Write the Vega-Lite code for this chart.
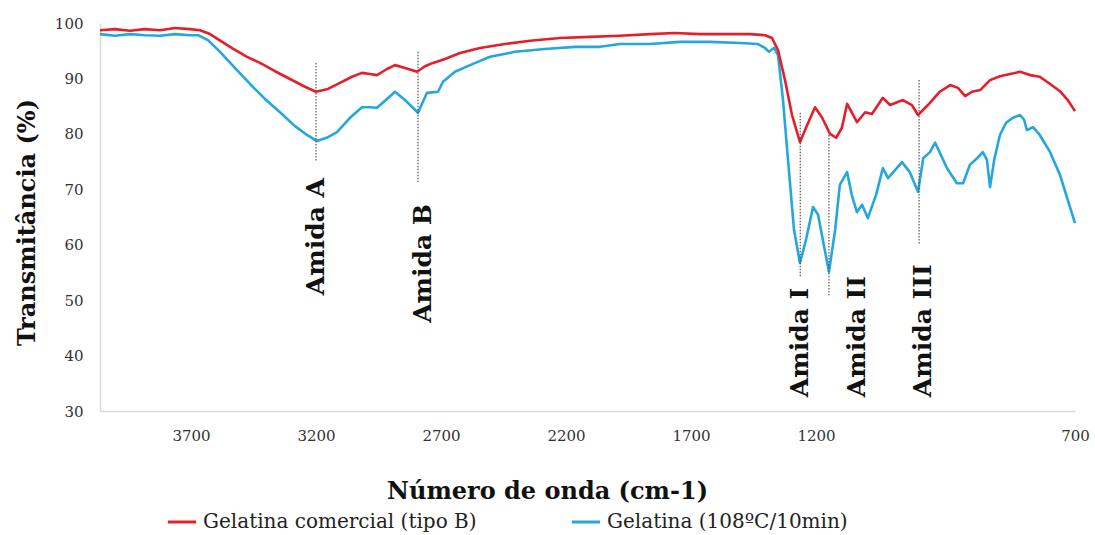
{
  "$schema": "https://vega.github.io/schema/vega-lite/v6.json",
  "width": 975,
  "height": 388,
  "autosize": {"type": "none"},
  "padding": {"left": 100, "top": 23, "right": 20, "bottom": 124},
  "background": "white",
  "config": {"view": {"stroke": null}, "font": "DejaVu Serif"},
  "datasets": {
    "espectros": [
      {"amostra": "Gelatina (108ºC/10min)", "numero_onda": 4064, "transmitancia": 98.0},
      {"amostra": "Gelatina (108ºC/10min)", "numero_onda": 4004, "transmitancia": 97.7},
      {"amostra": "Gelatina (108ºC/10min)", "numero_onda": 3944, "transmitancia": 98.0},
      {"amostra": "Gelatina (108ºC/10min)", "numero_onda": 3884, "transmitancia": 97.8},
      {"amostra": "Gelatina (108ºC/10min)", "numero_onda": 3824, "transmitancia": 97.7},
      {"amostra": "Gelatina (108ºC/10min)", "numero_onda": 3764, "transmitancia": 98.0},
      {"amostra": "Gelatina (108ºC/10min)", "numero_onda": 3704, "transmitancia": 97.8},
      {"amostra": "Gelatina (108ºC/10min)", "numero_onda": 3672, "transmitancia": 97.8},
      {"amostra": "Gelatina (108ºC/10min)", "numero_onda": 3632, "transmitancia": 96.9},
      {"amostra": "Gelatina (108ºC/10min)", "numero_onda": 3584, "transmitancia": 94.8},
      {"amostra": "Gelatina (108ºC/10min)", "numero_onda": 3516, "transmitancia": 91.5},
      {"amostra": "Gelatina (108ºC/10min)", "numero_onda": 3464, "transmitancia": 89.0},
      {"amostra": "Gelatina (108ºC/10min)", "numero_onda": 3404, "transmitancia": 86.3},
      {"amostra": "Gelatina (108ºC/10min)", "numero_onda": 3344, "transmitancia": 83.9},
      {"amostra": "Gelatina (108ºC/10min)", "numero_onda": 3284, "transmitancia": 81.4},
      {"amostra": "Gelatina (108ºC/10min)", "numero_onda": 3236, "transmitancia": 79.8},
      {"amostra": "Gelatina (108ºC/10min)", "numero_onda": 3196, "transmitancia": 78.7},
      {"amostra": "Gelatina (108ºC/10min)", "numero_onda": 3152, "transmitancia": 79.4},
      {"amostra": "Gelatina (108ºC/10min)", "numero_onda": 3116, "transmitancia": 80.3},
      {"amostra": "Gelatina (108ºC/10min)", "numero_onda": 3064, "transmitancia": 82.9},
      {"amostra": "Gelatina (108ºC/10min)", "numero_onda": 3016, "transmitancia": 84.8},
      {"amostra": "Gelatina (108ºC/10min)", "numero_onda": 2984, "transmitancia": 84.8},
      {"amostra": "Gelatina (108ºC/10min)", "numero_onda": 2956, "transmitancia": 84.7},
      {"amostra": "Gelatina (108ºC/10min)", "numero_onda": 2916, "transmitancia": 86.3},
      {"amostra": "Gelatina (108ºC/10min)", "numero_onda": 2884, "transmitancia": 87.6},
      {"amostra": "Gelatina (108ºC/10min)", "numero_onda": 2844, "transmitancia": 86.1},
      {"amostra": "Gelatina (108ºC/10min)", "numero_onda": 2792, "transmitancia": 83.8},
      {"amostra": "Gelatina (108ºC/10min)", "numero_onda": 2756, "transmitancia": 87.4},
      {"amostra": "Gelatina (108ºC/10min)", "numero_onda": 2712, "transmitancia": 87.6},
      {"amostra": "Gelatina (108ºC/10min)", "numero_onda": 2692, "transmitancia": 89.4},
      {"amostra": "Gelatina (108ºC/10min)", "numero_onda": 2644, "transmitancia": 91.2},
      {"amostra": "Gelatina (108ºC/10min)", "numero_onda": 2584, "transmitancia": 92.4},
      {"amostra": "Gelatina (108ºC/10min)", "numero_onda": 2504, "transmitancia": 93.9},
      {"amostra": "Gelatina (108ºC/10min)", "numero_onda": 2404, "transmitancia": 94.8},
      {"amostra": "Gelatina (108ºC/10min)", "numero_onda": 2284, "transmitancia": 95.3},
      {"amostra": "Gelatina (108ºC/10min)", "numero_onda": 2164, "transmitancia": 95.7},
      {"amostra": "Gelatina (108ºC/10min)", "numero_onda": 2064, "transmitancia": 95.7},
      {"amostra": "Gelatina (108ºC/10min)", "numero_onda": 1984, "transmitancia": 96.2},
      {"amostra": "Gelatina (108ºC/10min)", "numero_onda": 1864, "transmitancia": 96.2},
      {"amostra": "Gelatina (108ºC/10min)", "numero_onda": 1744, "transmitancia": 96.6},
      {"amostra": "Gelatina (108ºC/10min)", "numero_onda": 1624, "transmitancia": 96.6},
      {"amostra": "Gelatina (108ºC/10min)", "numero_onda": 1504, "transmitancia": 96.4},
      {"amostra": "Gelatina (108ºC/10min)", "numero_onda": 1432, "transmitancia": 96.2},
      {"amostra": "Gelatina (108ºC/10min)", "numero_onda": 1404, "transmitancia": 95.5},
      {"amostra": "Gelatina (108ºC/10min)", "numero_onda": 1388, "transmitancia": 94.8},
      {"amostra": "Gelatina (108ºC/10min)", "numero_onda": 1368, "transmitancia": 95.5},
      {"amostra": "Gelatina (108ºC/10min)", "numero_onda": 1352, "transmitancia": 94.2},
      {"amostra": "Gelatina (108ºC/10min)", "numero_onda": 1332, "transmitancia": 86.1},
      {"amostra": "Gelatina (108ºC/10min)", "numero_onda": 1312, "transmitancia": 75.3},
      {"amostra": "Gelatina (108ºC/10min)", "numero_onda": 1288, "transmitancia": 62.7},
      {"amostra": "Gelatina (108ºC/10min)", "numero_onda": 1264, "transmitancia": 56.7},
      {"amostra": "Gelatina (108ºC/10min)", "numero_onda": 1240, "transmitancia": 60.9},
      {"amostra": "Gelatina (108ºC/10min)", "numero_onda": 1212, "transmitancia": 66.8},
      {"amostra": "Gelatina (108ºC/10min)", "numero_onda": 1196, "transmitancia": 65.4},
      {"amostra": "Gelatina (108ºC/10min)", "numero_onda": 1185, "transmitancia": 60.0},
      {"amostra": "Gelatina (108ºC/10min)", "numero_onda": 1175, "transmitancia": 55.1},
      {"amostra": "Gelatina (108ºC/10min)", "numero_onda": 1163, "transmitancia": 62.7},
      {"amostra": "Gelatina (108ºC/10min)", "numero_onda": 1154, "transmitancia": 70.8},
      {"amostra": "Gelatina (108ºC/10min)", "numero_onda": 1140, "transmitancia": 73.1},
      {"amostra": "Gelatina (108ºC/10min)", "numero_onda": 1131, "transmitancia": 69.0},
      {"amostra": "Gelatina (108ºC/10min)", "numero_onda": 1121, "transmitancia": 65.9},
      {"amostra": "Gelatina (108ºC/10min)", "numero_onda": 1111, "transmitancia": 67.2},
      {"amostra": "Gelatina (108ºC/10min)", "numero_onda": 1100, "transmitancia": 64.8},
      {"amostra": "Gelatina (108ºC/10min)", "numero_onda": 1084, "transmitancia": 69.0},
      {"amostra": "Gelatina (108ºC/10min)", "numero_onda": 1071, "transmitancia": 73.8},
      {"amostra": "Gelatina (108ºC/10min)", "numero_onda": 1061, "transmitancia": 72.0},
      {"amostra": "Gelatina (108ºC/10min)", "numero_onda": 1047, "transmitancia": 73.5},
      {"amostra": "Gelatina (108ºC/10min)", "numero_onda": 1034, "transmitancia": 74.9},
      {"amostra": "Gelatina (108ºC/10min)", "numero_onda": 1019, "transmitancia": 73.1},
      {"amostra": "Gelatina (108ºC/10min)", "numero_onda": 1003, "transmitancia": 69.5},
      {"amostra": "Gelatina (108ºC/10min)", "numero_onda": 993, "transmitancia": 75.6},
      {"amostra": "Gelatina (108ºC/10min)", "numero_onda": 980, "transmitancia": 76.7},
      {"amostra": "Gelatina (108ºC/10min)", "numero_onda": 970, "transmitancia": 78.4},
      {"amostra": "Gelatina (108ºC/10min)", "numero_onda": 959, "transmitancia": 76.2},
      {"amostra": "Gelatina (108ºC/10min)", "numero_onda": 947, "transmitancia": 73.8},
      {"amostra": "Gelatina (108ºC/10min)", "numero_onda": 928, "transmitancia": 71.1},
      {"amostra": "Gelatina (108ºC/10min)", "numero_onda": 916, "transmitancia": 71.1},
      {"amostra": "Gelatina (108ºC/10min)", "numero_onda": 903, "transmitancia": 74.4},
      {"amostra": "Gelatina (108ºC/10min)", "numero_onda": 889, "transmitancia": 75.6},
      {"amostra": "Gelatina (108ºC/10min)", "numero_onda": 878, "transmitancia": 76.7},
      {"amostra": "Gelatina (108ºC/10min)", "numero_onda": 870, "transmitancia": 75.3},
      {"amostra": "Gelatina (108ºC/10min)", "numero_onda": 864, "transmitancia": 70.4},
      {"amostra": "Gelatina (108ºC/10min)", "numero_onda": 856, "transmitancia": 75.3},
      {"amostra": "Gelatina (108ºC/10min)", "numero_onda": 845, "transmitancia": 79.8},
      {"amostra": "Gelatina (108ºC/10min)", "numero_onda": 833, "transmitancia": 82.0},
      {"amostra": "Gelatina (108ºC/10min)", "numero_onda": 820, "transmitancia": 82.9},
      {"amostra": "Gelatina (108ºC/10min)", "numero_onda": 806, "transmitancia": 83.4},
      {"amostra": "Gelatina (108ºC/10min)", "numero_onda": 798, "transmitancia": 82.5},
      {"amostra": "Gelatina (108ºC/10min)", "numero_onda": 793, "transmitancia": 80.7},
      {"amostra": "Gelatina (108ºC/10min)", "numero_onda": 781, "transmitancia": 81.2},
      {"amostra": "Gelatina (108ºC/10min)", "numero_onda": 768, "transmitancia": 79.8},
      {"amostra": "Gelatina (108ºC/10min)", "numero_onda": 748, "transmitancia": 76.7},
      {"amostra": "Gelatina (108ºC/10min)", "numero_onda": 729, "transmitancia": 72.6},
      {"amostra": "Gelatina (108ºC/10min)", "numero_onda": 714, "transmitancia": 68.1},
      {"amostra": "Gelatina (108ºC/10min)", "numero_onda": 700, "transmitancia": 63.9},
      {"amostra": "Gelatina comercial (tipo B)", "numero_onda": 4064, "transmitancia": 98.7},
      {"amostra": "Gelatina comercial (tipo B)", "numero_onda": 4004, "transmitancia": 98.9},
      {"amostra": "Gelatina comercial (tipo B)", "numero_onda": 3944, "transmitancia": 98.6},
      {"amostra": "Gelatina comercial (tipo B)", "numero_onda": 3884, "transmitancia": 98.9},
      {"amostra": "Gelatina comercial (tipo B)", "numero_onda": 3824, "transmitancia": 98.7},
      {"amostra": "Gelatina comercial (tipo B)", "numero_onda": 3764, "transmitancia": 99.1},
      {"amostra": "Gelatina comercial (tipo B)", "numero_onda": 3704, "transmitancia": 98.9},
      {"amostra": "Gelatina comercial (tipo B)", "numero_onda": 3664, "transmitancia": 98.7},
      {"amostra": "Gelatina comercial (tipo B)", "numero_onda": 3624, "transmitancia": 98.0},
      {"amostra": "Gelatina comercial (tipo B)", "numero_onda": 3544, "transmitancia": 95.7},
      {"amostra": "Gelatina comercial (tipo B)", "numero_onda": 3476, "transmitancia": 93.9},
      {"amostra": "Gelatina comercial (tipo B)", "numero_onda": 3424, "transmitancia": 92.8},
      {"amostra": "Gelatina comercial (tipo B)", "numero_onda": 3364, "transmitancia": 91.3},
      {"amostra": "Gelatina comercial (tipo B)", "numero_onda": 3304, "transmitancia": 89.9},
      {"amostra": "Gelatina comercial (tipo B)", "numero_onda": 3244, "transmitancia": 88.5},
      {"amostra": "Gelatina comercial (tipo B)", "numero_onda": 3200, "transmitancia": 87.6},
      {"amostra": "Gelatina comercial (tipo B)", "numero_onda": 3152, "transmitancia": 88.1},
      {"amostra": "Gelatina comercial (tipo B)", "numero_onda": 3104, "transmitancia": 89.2},
      {"amostra": "Gelatina comercial (tipo B)", "numero_onda": 3056, "transmitancia": 90.3},
      {"amostra": "Gelatina comercial (tipo B)", "numero_onda": 3016, "transmitancia": 91.0},
      {"amostra": "Gelatina comercial (tipo B)", "numero_onda": 2984, "transmitancia": 90.8},
      {"amostra": "Gelatina comercial (tipo B)", "numero_onda": 2956, "transmitancia": 90.6},
      {"amostra": "Gelatina comercial (tipo B)", "numero_onda": 2916, "transmitancia": 91.7},
      {"amostra": "Gelatina comercial (tipo B)", "numero_onda": 2884, "transmitancia": 92.4},
      {"amostra": "Gelatina comercial (tipo B)", "numero_onda": 2844, "transmitancia": 91.9},
      {"amostra": "Gelatina comercial (tipo B)", "numero_onda": 2796, "transmitancia": 91.2},
      {"amostra": "Gelatina comercial (tipo B)", "numero_onda": 2764, "transmitancia": 92.2},
      {"amostra": "Gelatina comercial (tipo B)", "numero_onda": 2732, "transmitancia": 92.8},
      {"amostra": "Gelatina comercial (tipo B)", "numero_onda": 2684, "transmitancia": 93.5},
      {"amostra": "Gelatina comercial (tipo B)", "numero_onda": 2624, "transmitancia": 94.6},
      {"amostra": "Gelatina comercial (tipo B)", "numero_onda": 2544, "transmitancia": 95.5},
      {"amostra": "Gelatina comercial (tipo B)", "numero_onda": 2444, "transmitancia": 96.2},
      {"amostra": "Gelatina comercial (tipo B)", "numero_onda": 2344, "transmitancia": 96.8},
      {"amostra": "Gelatina comercial (tipo B)", "numero_onda": 2224, "transmitancia": 97.3},
      {"amostra": "Gelatina comercial (tipo B)", "numero_onda": 2104, "transmitancia": 97.5},
      {"amostra": "Gelatina comercial (tipo B)", "numero_onda": 1984, "transmitancia": 97.7},
      {"amostra": "Gelatina comercial (tipo B)", "numero_onda": 1864, "transmitancia": 98.0},
      {"amostra": "Gelatina comercial (tipo B)", "numero_onda": 1764, "transmitancia": 98.2},
      {"amostra": "Gelatina comercial (tipo B)", "numero_onda": 1664, "transmitancia": 98.0},
      {"amostra": "Gelatina comercial (tipo B)", "numero_onda": 1564, "transmitancia": 98.0},
      {"amostra": "Gelatina comercial (tipo B)", "numero_onda": 1464, "transmitancia": 98.0},
      {"amostra": "Gelatina comercial (tipo B)", "numero_onda": 1404, "transmitancia": 97.8},
      {"amostra": "Gelatina comercial (tipo B)", "numero_onda": 1376, "transmitancia": 97.3},
      {"amostra": "Gelatina comercial (tipo B)", "numero_onda": 1352, "transmitancia": 95.1},
      {"amostra": "Gelatina comercial (tipo B)", "numero_onda": 1324, "transmitancia": 89.7},
      {"amostra": "Gelatina comercial (tipo B)", "numero_onda": 1296, "transmitancia": 83.4},
      {"amostra": "Gelatina comercial (tipo B)", "numero_onda": 1264, "transmitancia": 78.5},
      {"amostra": "Gelatina comercial (tipo B)", "numero_onda": 1240, "transmitancia": 81.1},
      {"amostra": "Gelatina comercial (tipo B)", "numero_onda": 1204, "transmitancia": 84.8},
      {"amostra": "Gelatina comercial (tipo B)", "numero_onda": 1188, "transmitancia": 82.9},
      {"amostra": "Gelatina comercial (tipo B)", "numero_onda": 1173, "transmitancia": 80.0},
      {"amostra": "Gelatina comercial (tipo B)", "numero_onda": 1161, "transmitancia": 79.3},
      {"amostra": "Gelatina comercial (tipo B)", "numero_onda": 1150, "transmitancia": 81.1},
      {"amostra": "Gelatina comercial (tipo B)", "numero_onda": 1140, "transmitancia": 85.4},
      {"amostra": "Gelatina comercial (tipo B)", "numero_onda": 1131, "transmitancia": 83.9},
      {"amostra": "Gelatina comercial (tipo B)", "numero_onda": 1121, "transmitancia": 82.1},
      {"amostra": "Gelatina comercial (tipo B)", "numero_onda": 1105, "transmitancia": 83.9},
      {"amostra": "Gelatina comercial (tipo B)", "numero_onda": 1092, "transmitancia": 83.6},
      {"amostra": "Gelatina comercial (tipo B)", "numero_onda": 1071, "transmitancia": 86.5},
      {"amostra": "Gelatina comercial (tipo B)", "numero_onda": 1057, "transmitancia": 85.2},
      {"amostra": "Gelatina comercial (tipo B)", "numero_onda": 1032, "transmitancia": 86.1},
      {"amostra": "Gelatina comercial (tipo B)", "numero_onda": 1015, "transmitancia": 85.2},
      {"amostra": "Gelatina comercial (tipo B)", "numero_onda": 1003, "transmitancia": 83.4},
      {"amostra": "Gelatina comercial (tipo B)", "numero_onda": 980, "transmitancia": 85.6},
      {"amostra": "Gelatina comercial (tipo B)", "numero_onda": 961, "transmitancia": 87.6},
      {"amostra": "Gelatina comercial (tipo B)", "numero_onda": 941, "transmitancia": 88.8},
      {"amostra": "Gelatina comercial (tipo B)", "numero_onda": 926, "transmitancia": 88.3},
      {"amostra": "Gelatina comercial (tipo B)", "numero_onda": 912, "transmitancia": 86.8},
      {"amostra": "Gelatina comercial (tipo B)", "numero_onda": 899, "transmitancia": 87.6},
      {"amostra": "Gelatina comercial (tipo B)", "numero_onda": 883, "transmitancia": 87.9},
      {"amostra": "Gelatina comercial (tipo B)", "numero_onda": 864, "transmitancia": 89.7},
      {"amostra": "Gelatina comercial (tipo B)", "numero_onda": 845, "transmitancia": 90.4},
      {"amostra": "Gelatina comercial (tipo B)", "numero_onda": 825, "transmitancia": 90.8},
      {"amostra": "Gelatina comercial (tipo B)", "numero_onda": 806, "transmitancia": 91.2},
      {"amostra": "Gelatina comercial (tipo B)", "numero_onda": 787, "transmitancia": 90.6},
      {"amostra": "Gelatina comercial (tipo B)", "numero_onda": 768, "transmitancia": 90.3},
      {"amostra": "Gelatina comercial (tipo B)", "numero_onda": 748, "transmitancia": 89.0},
      {"amostra": "Gelatina comercial (tipo B)", "numero_onda": 729, "transmitancia": 87.7},
      {"amostra": "Gelatina comercial (tipo B)", "numero_onda": 714, "transmitancia": 86.1},
      {"amostra": "Gelatina comercial (tipo B)", "numero_onda": 700, "transmitancia": 84.1}
    ],
    "bandas": [
      {"banda": "Amida A", "numero_onda": 3200, "topo": 92.8, "base": 75.1},
      {"banda": "Amida B", "numero_onda": 2792, "topo": 94.8, "base": 71.3},
      {"banda": "Amida I", "numero_onda": 1263, "topo": 83.8, "base": 54.2},
      {"banda": "Amida II", "numero_onda": 1175, "topo": 79.8, "base": 50.9},
      {"banda": "Amida III", "numero_onda": 1001, "topo": 89.7, "base": 60.0}
    ],
    "rotulos": [
      {"banda": "Amida A", "numero_onda": 3200, "rotulo_y": 50.9},
      {"banda": "Amida B", "numero_onda": 2772, "rotulo_y": 45.9},
      {"banda": "Amida I", "numero_onda": 1264, "rotulo_y": 32.5},
      {"banda": "Amida II", "numero_onda": 1121, "rotulo_y": 32.5},
      {"banda": "Amida III", "numero_onda": 993, "rotulo_y": 32.5}
    ]
  },
  "layer": [
    {
      "data": {"name": "espectros"},
      "mark": {"type": "line", "strokeWidth": 2.6, "strokeJoin": "round"},
      "encoding": {
        "x": {
          "field": "numero_onda",
          "type": "quantitative",
          "scale": {"domain": [4064, 1200, 700], "range": [0, 716, 975], "nice": false, "zero": false},
          "axis": {
            "values": [3700, 3200, 2700, 2200, 1700, 1200, 700],
            "format": "d",
            "title": "Número de onda (cm-1)",
            "grid": false,
            "ticks": false,
            "domainColor": "#d9d9d9",
            "domainWidth": 1.5,
            "labelFlush": false,
            "labelOverlap": false,
            "labelBound": false,
            "labelPadding": 17,
            "labelFont": "DejaVu Serif",
            "labelFontSize": 15,
            "labelColor": "#333333",
            "titleFont": "DejaVu Serif",
            "titleFontSize": 24,
            "titleFontWeight": "bold",
            "titleColor": "#111111",
            "titleX": 447,
            "titleY": 87,
            "titleAlign": "center",
            "titleBaseline": "alphabetic"
          }
        },
        "y": {
          "field": "transmitancia",
          "type": "quantitative",
          "scale": {"domain": [30, 100], "nice": false, "zero": false},
          "axis": {
            "values": [30, 40, 50, 60, 70, 80, 90, 100],
            "title": "Transmitância (%)",
            "grid": false,
            "ticks": false,
            "domainColor": "#d9d9d9",
            "domainWidth": 1.5,
            "labelPadding": 17,
            "labelFont": "DejaVu Serif",
            "labelFontSize": 15,
            "labelColor": "#333333",
            "titleFont": "DejaVu Serif",
            "titleFontSize": 24,
            "titleFontWeight": "bold",
            "titleColor": "#111111",
            "titleX": -73,
            "titleY": 199,
            "titleAngle": 270,
            "titleAlign": "center",
            "titleBaseline": "middle"
          }
        },
        "color": {
          "field": "amostra",
          "type": "nominal",
          "scale": {
            "domain": ["Gelatina comercial (tipo B)", "Gelatina (108ºC/10min)"],
            "range": ["#e51f2a", "#23a7de"]
          },
          "legend": {
            "orient": "none",
            "legendX": 66,
            "legendY": 483,
            "direction": "horizontal",
            "title": null,
            "symbolType": "stroke",
            "symbolSize": 800,
            "symbolStrokeWidth": 3,
            "labelFont": "DejaVu Serif",
            "labelFontSize": 20,
            "labelColor": "#222222",
            "labelOffset": 5,
            "columnPadding": 88,
            "labelLimit": 400
          }
        },
        "order": {"field": "numero_onda", "type": "quantitative"}
      }
    },
    {
      "data": {"name": "bandas"},
      "mark": {"type": "rule", "color": "#555555", "strokeWidth": 1.2, "strokeDash": [1.5, 1.5]},
      "encoding": {
        "x": {"field": "numero_onda", "type": "quantitative"},
        "y": {"field": "topo", "type": "quantitative"},
        "y2": {"field": "base"}
      }
    },
    {
      "data": {"name": "rotulos"},
      "mark": {
        "type": "text",
        "angle": 270,
        "align": "left",
        "baseline": "middle",
        "font": "DejaVu Serif",
        "fontWeight": "bold",
        "fontSize": 25,
        "color": "#111111"
      },
      "encoding": {
        "x": {"field": "numero_onda", "type": "quantitative"},
        "y": {"field": "rotulo_y", "type": "quantitative"},
        "text": {"field": "banda"}
      }
    }
  ]
}
